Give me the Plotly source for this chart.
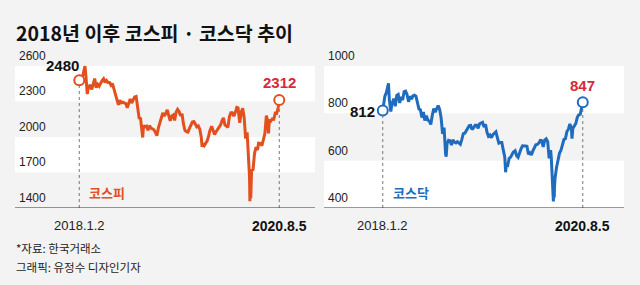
import plotly.graph_objects as go

W, H = 640, 285

dates = [
    "2018-01-02", "2018-01-05", "2018-01-12", "2018-01-19", "2018-01-26", "2018-01-29",
    "2018-02-02", "2018-02-09", "2018-02-14", "2018-02-23",
    "2018-03-02", "2018-03-09", "2018-03-16", "2018-03-23", "2018-03-30",
    "2018-04-06", "2018-04-13", "2018-04-20", "2018-04-27",
    "2018-05-04", "2018-05-11", "2018-05-18", "2018-05-25",
    "2018-06-01", "2018-06-08", "2018-06-15", "2018-06-22", "2018-06-29",
    "2018-07-06", "2018-07-13", "2018-07-20", "2018-07-27",
    "2018-08-03", "2018-08-10", "2018-08-17", "2018-08-24", "2018-08-31",
    "2018-09-07", "2018-09-14", "2018-09-21", "2018-09-28",
    "2018-10-05", "2018-10-12", "2018-10-19", "2018-10-26", "2018-10-29",
    "2018-11-02", "2018-11-09", "2018-11-16", "2018-11-23", "2018-11-30",
    "2018-12-07", "2018-12-14", "2018-12-21", "2018-12-28",
    "2019-01-04", "2019-01-11", "2019-01-18", "2019-01-25",
    "2019-02-01", "2019-02-08", "2019-02-15", "2019-02-22", "2019-02-28",
    "2019-03-08", "2019-03-15", "2019-03-22", "2019-03-29",
    "2019-04-05", "2019-04-12", "2019-04-19", "2019-04-26",
    "2019-05-03", "2019-05-10", "2019-05-17", "2019-05-24", "2019-05-31",
    "2019-06-07", "2019-06-14", "2019-06-21", "2019-06-28",
    "2019-07-05", "2019-07-12", "2019-07-19", "2019-07-26",
    "2019-08-02", "2019-08-06", "2019-08-09", "2019-08-16", "2019-08-23", "2019-08-30",
    "2019-09-06", "2019-09-11", "2019-09-20", "2019-09-27",
    "2019-10-04", "2019-10-11", "2019-10-18", "2019-10-25",
    "2019-11-01", "2019-11-08", "2019-11-15", "2019-11-22", "2019-11-29",
    "2019-12-06", "2019-12-13", "2019-12-20", "2019-12-27",
    "2020-01-03", "2020-01-10", "2020-01-17", "2020-01-23", "2020-01-31",
    "2020-02-07", "2020-02-14", "2020-02-21", "2020-02-28",
    "2020-03-06", "2020-03-09", "2020-03-12", "2020-03-13", "2020-03-16", "2020-03-17",
    "2020-03-18", "2020-03-19", "2020-03-20", "2020-03-23", "2020-03-24", "2020-03-27",
    "2020-04-03", "2020-04-10", "2020-04-17", "2020-04-24", "2020-04-29",
    "2020-05-08", "2020-05-15", "2020-05-22", "2020-05-29",
    "2020-06-05", "2020-06-12", "2020-06-15", "2020-06-19", "2020-06-26",
    "2020-07-03", "2020-07-10", "2020-07-17", "2020-07-24", "2020-07-31",
    "2020-08-05",
]

kospi = [
    2480, 2497, 2496, 2521, 2575, 2598,
    2525, 2363, 2421, 2440,
    2402, 2459, 2494, 2417, 2445,
    2429, 2455, 2476, 2492,
    2461, 2477, 2460, 2460,
    2438, 2451, 2404, 2357, 2326,
    2272, 2310, 2289, 2294,
    2287, 2282, 2247, 2293, 2322,
    2287, 2319, 2339, 2343,
    2267, 2161, 2156, 2027, 1996,
    2096, 2086, 2092, 2057, 2096,
    2075, 2069, 2061, 2041,
    2010, 2075, 2124, 2177,
    2203, 2177, 2196, 2230, 2195,
    2137, 2176, 2186, 2140,
    2209, 2233, 2216, 2179,
    2196, 2108, 2055, 2045, 2041,
    2072, 2095, 2126, 2130,
    2110, 2086, 2094, 2066,
    1998, 1917, 1943, 1927, 1948, 1967,
    2009, 2049, 2091, 2049,
    2021, 2044, 2060, 2085,
    2100, 2137, 2162, 2101, 2087,
    2081, 2170, 2204, 2204,
    2176, 2206, 2250, 2246, 2119,
    2211, 2243, 2163, 1987,
    2040, 1954, 1834, 1771, 1714, 1672,
    1591, 1457, 1566, 1482, 1609, 1717,
    1725, 1861, 1914, 1889, 1947,
    1945, 1927, 1970, 2029,
    2181, 2132, 2030, 2141, 2134,
    2152, 2150, 2201, 2200, 2249,
    2312,
]

kosdaq = [
    812, 828, 873, 888, 910, 927,
    858, 808, 839, 862,
    830, 876, 880, 844, 870,
    856, 892, 894, 879,
    849, 872, 860, 874,
    877, 873, 836, 818, 815,
    782, 806, 770, 790,
    772, 768, 753, 791, 820,
    805, 823, 833, 817,
    781, 713, 740, 629, 617,
    672, 686, 684, 666, 688,
    678, 675, 680, 675,
    669, 690, 714, 716,
    729, 737, 748, 749, 731,
    740, 750, 750, 737,
    756, 760, 762, 742,
    754, 720, 703, 708, 697,
    710, 718, 722, 697,
    674, 677, 677, 645,
    616, 551, 583, 580, 610, 615,
    628, 636, 642, 621,
    614, 636, 650, 663,
    661, 662, 661, 627, 633,
    624, 641, 657, 667,
    669, 674, 686, 685, 658,
    687, 692, 680, 610,
    644, 614, 563, 524, 504, 485,
    468, 428, 467, 443, 486, 527,
    572, 605, 632, 644, 658,
    690, 693, 723, 733,
    755, 738, 693, 736, 744,
    757, 783, 794, 796, 821,
    847,
]

kospi_ticks = [1400, 1700, 2000, 2300, 2600]
kosdaq_ticks = [400, 600, 800, 1000]
kospi_bands = [(1700, 2000), (2300, 2600)]
kosdaq_bands = [(400, 600), (800, 1000)]
start_label = "2018.1.2"
end_label = "2020.8.5"

ORANGE = "#e2501e"
BLUE = "#1f6cbf"
RED = "#d42a3a"
BG = "#f3f3f3"
FONT = "Liberation Sans, Arial, Noto Sans CJK KR"
KFONT = "Noto Sans CJK KR, Liberation Sans"


def px_x(p):
    return p / W


def px_y(p):
    return 1 - p / H


fig = go.Figure()

fig.add_trace(go.Scatter(x=dates, y=kospi, mode="lines",
                         line=dict(color=ORANGE, width=3), xaxis="x", yaxis="y",
                         hoverinfo="skip"))
fig.add_trace(go.Scatter(x=dates, y=kosdaq, mode="lines",
                         line=dict(color=BLUE, width=3), xaxis="x2", yaxis="y2",
                         hoverinfo="skip"))

# end-point markers
fig.add_trace(go.Scatter(x=[dates[0], dates[-1]], y=[kospi[0], kospi[-1]], mode="markers",
                         marker=dict(size=10, color="white", line=dict(color=ORANGE, width=2)),
                         xaxis="x", yaxis="y", hoverinfo="skip"))
fig.add_trace(go.Scatter(x=[dates[0], dates[-1]], y=[kosdaq[0], kosdaq[-1]], mode="markers",
                         marker=dict(size=10, color="white", line=dict(color=BLUE, width=2)),
                         xaxis="x2", yaxis="y2", hoverinfo="skip"))

shapes = []
annotations = []

panels = [
    ("x", "y", kospi, kospi_ticks, kospi_bands, ORANGE, "코스피"),
    ("x2", "y2", kosdaq, kosdaq_ticks, kosdaq_bands, BLUE, "코스닥"),
]

for xa, ya, vals, ticks, bands, col, name in panels:
    for lo, hi in bands:
        shapes.append(dict(type="rect", xref=f"{xa} domain", yref=ya, x0=0, x1=1, y0=lo, y1=hi,
                           fillcolor="white", line=dict(width=0), layer="below"))
    shapes.append(dict(type="line", xref=f"{xa} domain", yref=ya, x0=0, x1=1,
                       y0=ticks[0], y1=ticks[0], line=dict(color="#333333", width=1)))
    for d, v in [(dates[0], vals[0]), (dates[-1], vals[-1])]:
        shapes.append(dict(type="line", xref=xa, yref=ya, x0=d, x1=d, y0=ticks[0], y1=v,
                           line=dict(color="#777777", width=1, dash="dot"), layer="below"))
    for t in ticks:
        annotations.append(dict(x=0, y=t, xref=f"{xa} domain", yref=ya, text=str(t),
                                showarrow=False, xanchor="left", yanchor="bottom",
                                xshift=2, yshift=1,
                                font=dict(family=FONT, size=12, color="#222222")))
    annotations.append(dict(x=dates[0], y=ticks[0], xref=xa, yref=ya, text=f"<b>{name}</b>",
                            showarrow=False, xanchor="left", yanchor="bottom",
                            xshift=8, yshift=4,
                            font=dict(family=KFONT, size=13, color=col)))
    annotations.append(dict(x=dates[0], y=ticks[0], xref=xa, yref=ya, text=start_label,
                            showarrow=False, xanchor="center", yanchor="top", yshift=-8,
                            font=dict(family=FONT, size=13, color="#222222")))
    annotations.append(dict(x=dates[-1], y=ticks[0], xref=xa, yref=ya, text=f"<b>{end_label}</b>",
                            showarrow=False, xanchor="center", yanchor="top", yshift=-8,
                            font=dict(family=FONT, size=14, color="#111111")))

# value labels
annotations.append(dict(x=dates[0], y=kospi[0], xref="x", yref="y", text=f"<b>{kospi[0]}</b>",
                        showarrow=False, xanchor="right", yanchor="middle", xshift=2, yshift=15,
                        font=dict(family=FONT, size=15, color="#111111")))
annotations.append(dict(x=dates[-1], y=kospi[-1], xref="x", yref="y", text=f"<b>{kospi[-1]}</b>",
                        showarrow=False, xanchor="center", yanchor="bottom", yshift=7,
                        font=dict(family=FONT, size=15, color=RED)))
annotations.append(dict(x=dates[0], y=kosdaq[0], xref="x2", yref="y2", text=f"<b>{kosdaq[0]}</b>",
                        showarrow=False, xanchor="right", yanchor="middle", xshift=-6, yshift=-1,
                        font=dict(family=FONT, size=15, color="#111111")))
annotations.append(dict(x=dates[-1], y=kosdaq[-1], xref="x2", yref="y2", text=f"<b>{kosdaq[-1]}</b>",
                        showarrow=False, xanchor="center", yanchor="bottom", yshift=6,
                        font=dict(family=FONT, size=15, color=RED)))

# title and footer
annotations.append(dict(x=px_x(14), y=px_y(32), xref="paper", yref="paper",
                        text="<b>2018년 이후 코스피 · 코스닥 추이</b>", showarrow=False,
                        xanchor="left", yanchor="middle",
                        font=dict(family=KFONT, size=19.5, color="#111111")))
annotations.append(dict(x=px_x(14), y=px_y(248), xref="paper", yref="paper",
                        text="*자료: 한국거래소", showarrow=False,
                        xanchor="left", yanchor="middle",
                        font=dict(family=KFONT, size=11.5, color="#222222")))
annotations.append(dict(x=px_x(14), y=px_y(267), xref="paper", yref="paper",
                        text="그래픽: 유정수 디자인기자", showarrow=False,
                        xanchor="left", yanchor="middle",
                        font=dict(family=KFONT, size=11.5, color="#222222")))

ydom = [px_y(208), px_y(50)]
axis_common = dict(showgrid=False, zeroline=False, showticklabels=False, ticks="", showline=False)

fig.update_layout(
    width=W, height=H,
    margin=dict(l=0, r=0, t=0, b=0),
    paper_bgcolor=BG, plot_bgcolor="rgba(0,0,0,0)",
    showlegend=False,
    xaxis=dict(domain=[px_x(15), px_x(315)], range=["2017-03-04", "2021-01-21"],
               type="date", **axis_common),
    yaxis=dict(domain=ydom, range=[1400, 2735], **axis_common),
    xaxis2=dict(domain=[px_x(324), px_x(624)], range=["2017-03-30", "2021-02-16"],
                type="date", anchor="y2", **axis_common),
    yaxis2=dict(domain=ydom, range=[400, 1067.6], anchor="x2", **axis_common),
    shapes=shapes,
    annotations=annotations,
)

fig.write_html("out.html")
